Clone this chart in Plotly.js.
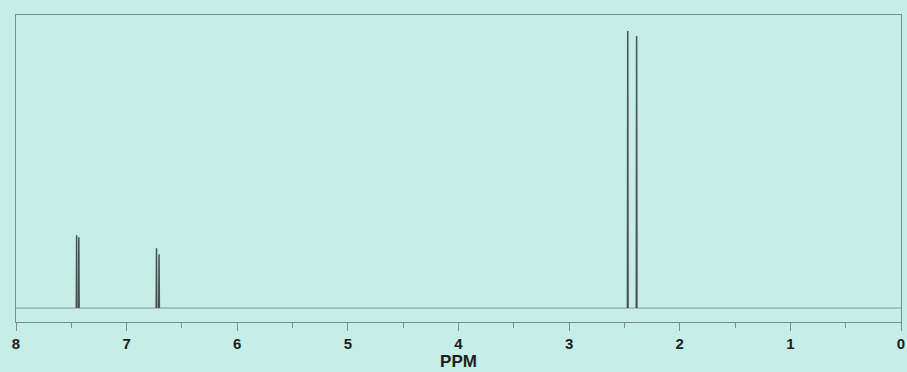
<!DOCTYPE html>
<html>
<head>
<meta charset="utf-8">
<script src="https://cdn.plot.ly/plotly-3.0.1.min.js"></script>
<style>html,body{margin:0;padding:0;background:#c6ede7;}#chart{width:907px;height:372px;}</style>
</head>
<body>
<div id="chart"></div>
<script>
// Peak positions (ppm) and heights (arbitrary units)
const peakPpm    = [7.452, 7.432, 6.73, 6.707, 2.47, 2.39];
const peakHeight = [73, 71, 60, 54, 278, 273];
const tickVals   = [8, 7, 6, 5, 4, 3, 2, 1, 0];
const tickText   = ['8', '7', '6', '5', '4', '3', '2', '1', '0'];
const xTitle     = 'PPM';

// Peak lines (separated by gaps so the baseline is drawn on its own)
const halfWidth = 0.003;
const xs = [], ys = [];
peakPpm.forEach((p, i) => {
  xs.push(p + halfWidth, p, p - halfWidth, null);
  ys.push(0, peakHeight[i], 0, null);
});

const bg = '#c6ede7';
const frame = '#7f8c8a';
const font = 'Liberation Sans Narrow, Liberation Sans, Arial, sans-serif';

const baseline = {
  x: [8, 0], y: [0, 0], type: 'scatter', mode: 'lines',
  line: {color: '#8b9593', width: 1}, hoverinfo: 'skip', showlegend: false
};
const peaks = {
  x: xs, y: ys, type: 'scatter', mode: 'lines', connectgaps: false,
  line: {color: '#4a5351', width: 1.5}, hoverinfo: 'skip', showlegend: false
};

const layout = {
  width: 907, height: 372,
  margin: {l: 16, r: 6, t: 15, b: 50},
  paper_bgcolor: bg, plot_bgcolor: bg,
  xaxis: {
    range: [8, 0], showgrid: false, zeroline: false,
    showline: true, mirror: true, linecolor: frame, linewidth: 1,
    ticks: 'outside', ticklen: 8, tickcolor: frame, tickwidth: 1,
    tickvals: tickVals, ticktext: tickText,
    minor: {dtick: 0.5, ticks: 'outside', ticklen: 5, tickcolor: frame, showgrid: false},
    tickfont: {family: font, size: 15, color: '#1c1f1f', weight: 700},
    title: {text: xTitle, standoff: 4, font: {family: font, size: 17, color: '#1c1f1f', weight: 700}}
  },
  yaxis: {
    range: [-14, 294], showgrid: false, zeroline: false,
    showline: true, mirror: true, linecolor: frame, linewidth: 1,
    showticklabels: false, ticks: ''
  }
};

Plotly.newPlot('chart', [baseline, peaks], layout, {displayModeBar: false, staticPlot: true});
</script>
</body>
</html>
